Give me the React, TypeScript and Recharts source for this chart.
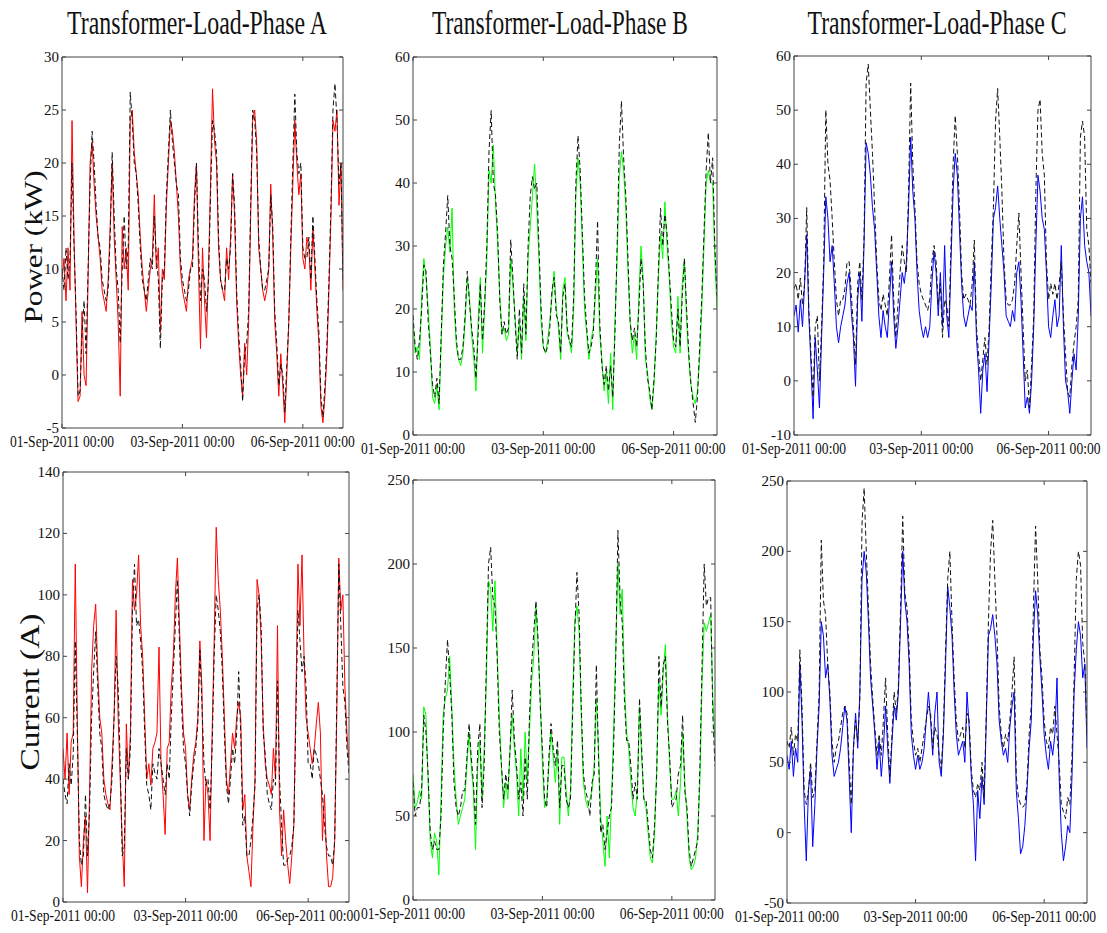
import React from "react";
import { LineChart, Line, XAxis, YAxis } from "recharts";

// x is a sample index; the three labelled ticks sit at 0, 60 and 120
const timeTicks = [0, 60, 120];
const timeLabels = ["01-Sep-2011 00:00", "03-Sep-2011 00:00", "06-Sep-2011 00:00"];

const titles = ["Transformer-Load-Phase A", "Transformer-Load-Phase B", "Transformer-Load-Phase C"];

// Power (kW), coloured = measured, black dashed = reference
const powerA = [
  9, 11, 7, 12, 8, 24, 13, 5, -2.5, -2,
  6, 0, -1, 9, 20, 22, 18, 15, 13, 11,
  8, 7, 6, 9, 14, 20, 13, 9, 5, -2,
  14, 10, 12, 8, 24, 25, 21, 19, 17, 13,
  10, 8, 6, 8, 10, 11, 17, 10, 12, 4,
  10, 9, 16, 20, 24, 23, 21, 18, 15, 10,
  8, 7, 6, 9, 10, 11, 17, 20, 10, 2.5,
  12, 7, 3.5, 10, 18, 27, 22, 20, 12, 9,
  8, 7, 12, 9, 13, 19, 15, 7, 3, 0,
  -2, 3, 0, 5, 15, 24, 25, 22, 12, 10,
  8, 7, 8, 10, 18, 13, 5, 2, -2, 2,
  -1, -4.5, 0, 5, 12, 18, 24, 20, 17, 19,
  11, 10, 13, 12, 8, 14, 10, 6, 3, -3,
  -4.5, -2, 2, 8, 15, 24, 23, 25, 16, 20, 8,
];
const powerARef = [
  10, 8, 12, 9, 11, 20, 12, 6, -2, -1.5,
  4, 7, 2, 10, 18, 23, 20, 16, 13, 12,
  9, 8, 7, 8, 13, 21, 15, 10, 8, 3,
  10, 15, 10, 12, 26.7, 24, 20, 19, 16, 12,
  9, 8, 7, 9, 11, 10, 15, 11, 9, 2.5,
  9, 10, 17, 21, 25, 22, 20, 18, 17, 11,
  9, 8, 7, 8, 10, 10, 16, 20, 12, 7,
  10, 9, 6, 9, 17, 24, 23, 21, 13, 9,
  8, 8, 11, 10, 12, 19, 16, 8, 4, 1,
  -2.5, 2, 3, 6, 16, 25, 24, 21, 13, 10,
  8, 8, 9, 10, 17, 14, 6, 3, -1, 1,
  0, -3.5, 1, 5, 13, 20, 26.5, 21, 19, 20,
  12, 11, 11, 13, 9, 15, 11, 7, 4, -2,
  -4, -1, 3, 9, 16, 25, 27.5, 24, 18, 20, 9,
];
const powerB = [
  18, 13, 14, 12, 22, 28, 25, 20, 14, 6,
  5, 8, 4, 15, 25, 30, 33, 29, 36, 20,
  14, 12, 11, 13, 18, 25, 22, 16, 12, 7,
  18, 25, 13, 20, 28, 42, 40, 46, 37, 30,
  22, 16, 17, 15, 16, 28, 24, 19, 13, 18,
  12, 22, 15, 28, 33, 38, 43, 36, 28, 18,
  14, 13, 15, 18, 22, 26, 20, 17, 12, 23,
  25, 16, 15, 13, 20, 38, 44, 40, 30, 20,
  16, 12, 15, 17, 22, 28, 16, 12, 7, 10,
  5, 13, 4, 18, 28, 41, 45, 42, 36, 26,
  18, 13, 16, 12, 22, 30, 25, 12, 10, 6,
  4, 8, 16, 25, 32, 28, 37, 30, 25, 18,
  14, 13, 22, 13, 24, 28, 18, 12, 8, 6,
  5, 7, 12, 20, 30, 40, 42, 40, 40, 28, 20,
];
const powerBRef = [
  19, 14, 12, 15, 20, 27, 26, 18, 13, 8,
  6, 9, 5, 16, 27, 32, 38, 30, 28, 22,
  15, 12, 12, 14, 19, 26, 21, 17, 14, 9,
  16, 24, 15, 21, 30, 45, 51.5, 40, 38, 32,
  21, 16, 18, 16, 17, 31, 25, 18, 12, 20,
  13, 24, 16, 30, 38, 41, 39, 40, 30, 20,
  14, 13, 14, 17, 23, 25, 19, 18, 13, 22,
  24, 17, 15, 14, 22, 40, 47.5, 42, 32, 22,
  17, 13, 14, 16, 24, 34, 18, 11, 8, 11,
  7, 11, 6, 16, 30, 46, 53, 44, 38, 28,
  18, 15, 17, 14, 20, 28, 24, 14, 9, 7,
  4, 9, 15, 26, 36, 30, 35, 32, 26, 20,
  15, 14, 20, 14, 22, 28, 20, 13, 8, 5,
  2, 6, 14, 22, 32, 42, 48, 40, 44, 30, 22,
];
const powerC = [
  12, 14, 9, 15, 10, 18, 27, 12, 3, -7,
  8, 2, -5, 8, 20, 34, 30, 22, 25, 18,
  10, 7, 10, 12, 14, 18, 20, 13, 8, -1,
  15, 20, 11, 25, 44, 42, 38, 32, 28, 20,
  12, 8, 13, 10, 8, 15, 22, 12, 6, 10,
  15, 20, 18, 22, 32, 45, 35, 30, 20, 13,
  10, 8, 10, 8, 10, 18, 24, 20, 12, 20,
  10, 25, 12, 8, 22, 35, 42, 38, 28, 18,
  12, 10, 12, 14, 13, 22, 8, 2, -6, 2,
  5, -2, 8, 18, 30, 32, 36, 30, 25, 20,
  12, 11, 10, 13, 11, 20, 22, 15, 5, -5,
  -3, -6, 0, 10, 25, 38, 35, 30, 28, 20,
  10, 8, 12, 15, 10, 12, 25, 10, 0, -2,
  -6, 0, 5, 2, 12, 30, 34, 25, 22, 20, 12,
];
const powerCRef = [
  17, 18, 15, 19, 14, 18, 32, 13, 5, -3,
  10, 12, 0, 10, 22, 50, 40, 37, 30, 22,
  15, 12, 15, 15, 17, 22, 22, 16, 10, 3,
  18, 22, 15, 26, 55, 58.5, 50, 42, 32, 22,
  15, 13, 16, 14, 12, 19, 27, 15, 8, 14,
  20, 25, 22, 20, 35, 55, 40, 32, 22, 18,
  16, 15, 14, 13, 15, 22, 25, 22, 14, 18,
  8, 15, 14, 10, 25, 40, 49, 42, 32, 20,
  15, 16, 15, 14, 18, 26, 10, 5, 0, 4,
  8, 3, 10, 22, 32, 48, 54, 45, 35, 22,
  15, 14, 14, 15, 18, 25, 31, 20, 10, 0,
  2, -5, 3, 12, 35, 50, 52, 42, 38, 22,
  15, 18, 16, 18, 15, 18, 22, 12, 5, -2,
  -3, 3, 7, 10, 15, 45, 48, 45, 28, 25, 18,
];

// Current (A)
const currentA = [
  50, 40, 55, 35, 52, 55, 110, 60, 15, 5,
  20, 28, 3, 35, 75, 90, 97, 75, 60, 55,
  40, 35, 32, 30, 45, 60, 95, 60, 40, 20,
  5, 58, 40, 55, 105, 95, 100, 113, 90, 80,
  60, 40, 45, 38, 50, 52, 55, 83, 45, 35,
  22, 50, 52, 70, 80, 100, 112, 90, 70, 55,
  50, 35, 30, 40, 48, 52, 60, 85, 70, 20,
  40, 35, 20, 55, 85, 122, 105, 95, 80, 60,
  40, 35, 45, 55, 50, 60, 65, 60, 30, 35,
  15, 10, 5, 25, 40, 105, 100, 85, 58, 45,
  40, 38, 35, 50, 40, 90, 30, 15, 30, 20,
  12, 6, 15, 25, 65, 110, 90, 113, 80, 60,
  55, 50, 45, 50, 58, 65, 55, 20, 35, 15,
  5, 5, 8, 20, 60, 112, 95, 100, 70, 55, 45,
];
const currentARef = [
  40, 35, 32, 45, 38, 48, 85, 55, 20, 12,
  15, 35, 15, 30, 60, 75, 88, 70, 55, 50,
  35, 32, 30, 32, 40, 60, 80, 70, 45, 15,
  18, 50, 40, 50, 95, 110, 90, 92, 85, 75,
  55, 38, 35, 30, 45, 42, 40, 50, 45, 40,
  35, 45, 40, 60, 75, 90, 105, 85, 65, 50,
  45, 35, 28, 38, 45, 50, 58, 82, 65, 45,
  38, 40, 30, 50, 80, 100, 95, 88, 75, 55,
  38, 32, 40, 50, 45, 55, 75, 55, 25, 28,
  15, 15, 20, 28, 38, 95, 100, 90, 55, 48,
  35, 32, 30, 40, 38, 72, 40, 25, 12, 12,
  14, 15, 18, 25, 60, 95, 85, 75, 80, 70,
  45, 45, 40, 50, 48, 45, 40, 35, 25, 18,
  15, 15, 12, 20, 65, 110, 90, 70, 65, 50, 42,
];
const currentB = [
  75, 55, 58, 65, 60, 115, 110, 70, 35, 25,
  40, 35, 15, 60, 110, 120, 125, 145, 115, 80,
  60, 45, 50, 55, 60, 80, 100, 80, 65, 30,
  80, 95, 60, 90, 130, 190, 185, 160, 190, 150,
  110, 80, 55, 70, 60, 90, 110, 90, 75, 50,
  90, 60, 100, 70, 100, 130, 145, 175, 150, 120,
  80, 55, 60, 80, 100, 85, 70, 90, 45, 85,
  85, 65, 50, 65, 120, 165, 175, 160, 110, 70,
  60, 55, 60, 65, 80, 120, 90, 50, 35, 20,
  50, 25, 60, 100, 150, 200, 170, 185, 130, 100,
  90, 70, 55, 50, 65, 115, 85, 60, 55, 40,
  25, 22, 40, 80, 130, 110, 135, 152, 110, 80,
  60, 60, 65, 50, 70, 100, 70, 50, 25, 18,
  20, 25, 40, 70, 130, 165, 160, 165, 170, 120, 95,
];
const currentBRef = [
  70, 50, 55, 55, 65, 110, 100, 75, 40, 30,
  35, 30, 30, 50, 100, 130, 155, 135, 110, 70,
  55, 50, 55, 65, 65, 85, 105, 85, 70, 45,
  90, 105, 55, 80, 140, 200, 210, 180, 175, 145,
  100, 80, 60, 75, 65, 90, 125, 95, 80, 60,
  70, 50, 85, 60, 110, 140, 160, 178, 155, 115,
  90, 60, 55, 85, 105, 90, 80, 95, 55, 80,
  80, 60, 55, 60, 110, 160, 195, 170, 115, 75,
  65, 60, 50, 70, 75, 140, 85, 40, 45, 30,
  40, 50, 55, 90, 145, 220, 180, 165, 120, 95,
  95, 80, 60, 70, 60, 120, 90, 60, 60, 45,
  30, 25, 45, 75, 145, 115, 140, 145, 105, 85,
  55, 58, 60, 75, 80, 110, 65, 55, 30, 20,
  25, 30, 35, 80, 140, 200, 175, 180, 180, 110, 80,
];
const currentC = [
  55, 45, 65, 40, 60, 50, 120, 80, 20, -20,
  30, 45, -10, 20, 60, 90, 150, 140, 110, 120,
  95, 55, 40, 45, 50, 60, 75, 90, 80, 40,
  0, 60, 85, 60, 100, 180, 200, 185, 150, 110,
  90, 70, 45, 65, 40, 60, 90, 60, 35, 65,
  90, 80, 100, 150, 200, 165, 150, 120, 70, 55,
  45, 55, 45, 50, 60, 80, 100, 80, 55, 85,
  100, 50, 40, 70, 120, 175, 160, 140, 100, 70,
  55, 60, 65, 50, 100, 75, 40, 20, -20, 30,
  10, 40, 20, 80, 140, 145, 155, 140, 120, 80,
  65, 55, 60, 50, 75, 90, 100, 30, 10, -15,
  -10, 5, 30, 60, 80, 140, 172, 155, 125, 100,
  70, 55, 45, 65, 55, 70, 110, 40, 0, -20,
  -10, 5, 0, 40, 100, 130, 150, 140, 110, 120, 60,
];
const currentCRef = [
  65, 60, 75, 55, 70, 65, 130, 90, 30, 20,
  30, 50, 25, 30, 65, 100, 208, 165, 155, 120,
  100, 65, 50, 60, 65, 75, 85, 90, 85, 50,
  20, 60, 80, 65, 95, 220, 245, 200, 160, 120,
  95, 75, 55, 70, 55, 80, 110, 70, 40, 70,
  100, 85, 105, 160, 225, 170, 160, 130, 80, 65,
  55, 60, 50, 60, 70, 80, 90, 85, 60, 75,
  70, 55, 45, 75, 130, 180, 200, 150, 110, 80,
  65, 70, 75, 60, 85, 80, 45, 30, 25, 35,
  30, 50, 25, 85, 150, 200, 222, 180, 140, 90,
  70, 60, 70, 65, 80, 100, 125, 40, 25, 20,
  18, 20, 35, 70, 90, 160, 218, 180, 130, 110,
  80, 65, 60, 75, 70, 90, 70, 50, 20, 15,
  10, 25, 20, 55, 110, 180, 200, 190, 135, 120, 70,
];

const powerATicks = [-5, 0, 5, 10, 15, 20, 25, 30];
const powerBTicks = [0, 10, 20, 30, 40, 50, 60];
const powerCTicks = [-10, 0, 10, 20, 30, 40, 50, 60];
const currentATicks = [0, 20, 40, 60, 80, 100, 120, 140];
const currentBTicks = [0, 50, 100, 150, 200, 250];
const currentCTicks = [-50, 0, 50, 100, 150, 200, 250];

const SERIF = '"Liberation Serif", "Times New Roman", Times, serif';
const FRAME = "#444";

const toRows = (main: number[], ref: number[]) =>
  main.map((v, i) => ({ t: i, main: v, ref: ref[i] }));

function BottomTick(props: any) {
  const { x, y, payload } = props;
  const k = timeTicks.indexOf(payload.value);
  return (
    <g>
      <line x1={x} y1={y} x2={x} y2={y - 4} stroke={FRAME} />
      <text
        x={x}
        y={y + 19}
        textAnchor="middle"
        fontFamily={SERIF}
        fontSize={16}
        fill="#111"
        textLength={104}
        lengthAdjust="spacingAndGlyphs"
      >
        {timeLabels[k]}
      </text>
    </g>
  );
}

function TopTick(props: any) {
  const { x, y } = props;
  return <line x1={x} y1={y} x2={x} y2={y + 4} stroke={FRAME} />;
}

function LeftTick(props: any) {
  const { x, y, payload } = props;
  return (
    <g>
      <line x1={x} y1={y} x2={x + 4} y2={y} stroke={FRAME} />
      <text x={x - 3} y={y + 5} textAnchor="end" fontFamily={SERIF} fontSize={15} fill="#111">
        {payload.value}
      </text>
    </g>
  );
}

function RightTick(props: any) {
  const { x, y } = props;
  return <line x1={x} y1={y} x2={x - 4} y2={y} stroke={FRAME} />;
}

type PanelProps = {
  left: number;
  top: number;
  width: number;
  height: number;
  main: number[];
  ref: number[];
  ticks: number[];
  color: string;
};

function Panel({ left, top, width, height, main, ref, ticks, color }: PanelProps) {
  const ML = 70;
  const MT = 10;
  const MR = 25;
  const XH = 40;
  const rows = toRows(main, ref);
  const domain = [ticks[0], ticks[ticks.length - 1]];
  return (
    <div style={{ position: "absolute", left: left - ML, top: top - MT }}>
      <LineChart
        width={ML + width + 1 + MR}
        height={MT + height + XH}
        data={rows}
        margin={{ top: MT - 1, right: MR, bottom: 0, left: 0 }}
      >
        <XAxis
          xAxisId="b"
          dataKey="t"
          type="number"
          domain={[0, 140]}
          ticks={timeTicks}
          interval={0}
          height={XH}
          tickSize={0}
          tickMargin={0}
          tickLine={false}
          axisLine={{ stroke: FRAME }}
          tick={BottomTick}
          allowDataOverflow
        />
        <XAxis
          xAxisId="t"
          orientation="top"
          dataKey="t"
          type="number"
          domain={[0, 140]}
          ticks={timeTicks}
          interval={0}
          height={1}
          tickSize={0}
          tickMargin={0}
          tickLine={false}
          axisLine={{ stroke: FRAME }}
          tick={TopTick}
          allowDataOverflow
        />
        <YAxis
          yAxisId="l"
          type="number"
          domain={domain}
          ticks={ticks}
          interval={0}
          width={ML}
          tickSize={0}
          tickMargin={0}
          tickLine={false}
          axisLine={{ stroke: FRAME }}
          tick={LeftTick}
          allowDataOverflow
        />
        <YAxis
          yAxisId="r"
          orientation="right"
          type="number"
          domain={domain}
          ticks={ticks}
          interval={0}
          width={1}
          tickSize={0}
          tickMargin={0}
          tickLine={false}
          axisLine={{ stroke: FRAME }}
          tick={RightTick}
          allowDataOverflow
        />
        <Line
          xAxisId="b"
          yAxisId="l"
          dataKey="main"
          type="linear"
          stroke={color}
          strokeWidth={1}
          dot={false}
          isAnimationActive={false}
        />
        <Line
          xAxisId="b"
          yAxisId="l"
          dataKey="ref"
          type="linear"
          stroke="#111"
          strokeWidth={1}
          strokeDasharray="5 3"
          dot={false}
          isAnimationActive={false}
        />
      </LineChart>
    </div>
  );
}

export default function App() {
  return (
    <div
      style={{
        position: "absolute",
        left: 0,
        top: 0,
        width: 1107,
        height: 933,
        background: "#fff",
        overflow: "hidden",
      }}
    >
      <Panel left={62} top={57} width={281} height={371} main={powerA} ref={powerARef} ticks={powerATicks} color="#ff0000" />
      <Panel left={413} top={57} width={304} height={378} main={powerB} ref={powerBRef} ticks={powerBTicks} color="#00ff00" />
      <Panel left={794} top={56} width={297} height={379} main={powerC} ref={powerCRef} ticks={powerCTicks} color="#0000ff" />
      <Panel left={63} top={472} width={286} height={430} main={currentA} ref={currentARef} ticks={currentATicks} color="#ff0000" />
      <Panel left={413} top={480} width={302} height={420} main={currentB} ref={currentBRef} ticks={currentBTicks} color="#00ff00" />
      <Panel left={787} top={481} width={300} height={422} main={currentC} ref={currentCRef} ticks={currentCTicks} color="#0000ff" />

      <svg
        width={1107}
        height={933}
        style={{ position: "absolute", left: 0, top: 0, pointerEvents: "none" }}
      >
        <g fontFamily={SERIF} fill="#111">
          <text x={197} y={34} textAnchor="middle" fontSize={34} textLength={260} lengthAdjust="spacingAndGlyphs">
            {titles[0]}
          </text>
          <text x={560} y={34} textAnchor="middle" fontSize={34} textLength={256} lengthAdjust="spacingAndGlyphs">
            {titles[1]}
          </text>
          <text x={937} y={34} textAnchor="middle" fontSize={34} textLength={259} lengthAdjust="spacingAndGlyphs">
            {titles[2]}
          </text>
          <text
            transform="translate(33,247) rotate(-90)"
            textAnchor="middle"
            dy="0.35em"
            fontSize={26}
            textLength={153}
            lengthAdjust="spacingAndGlyphs"
          >
            Power (kW)
          </text>
          <text
            transform="translate(30,692) rotate(-90)"
            textAnchor="middle"
            dy="0.35em"
            fontSize={27}
            textLength={157}
            lengthAdjust="spacingAndGlyphs"
          >
            Current (A)
          </text>
        </g>
      </svg>
    </div>
  );
}
